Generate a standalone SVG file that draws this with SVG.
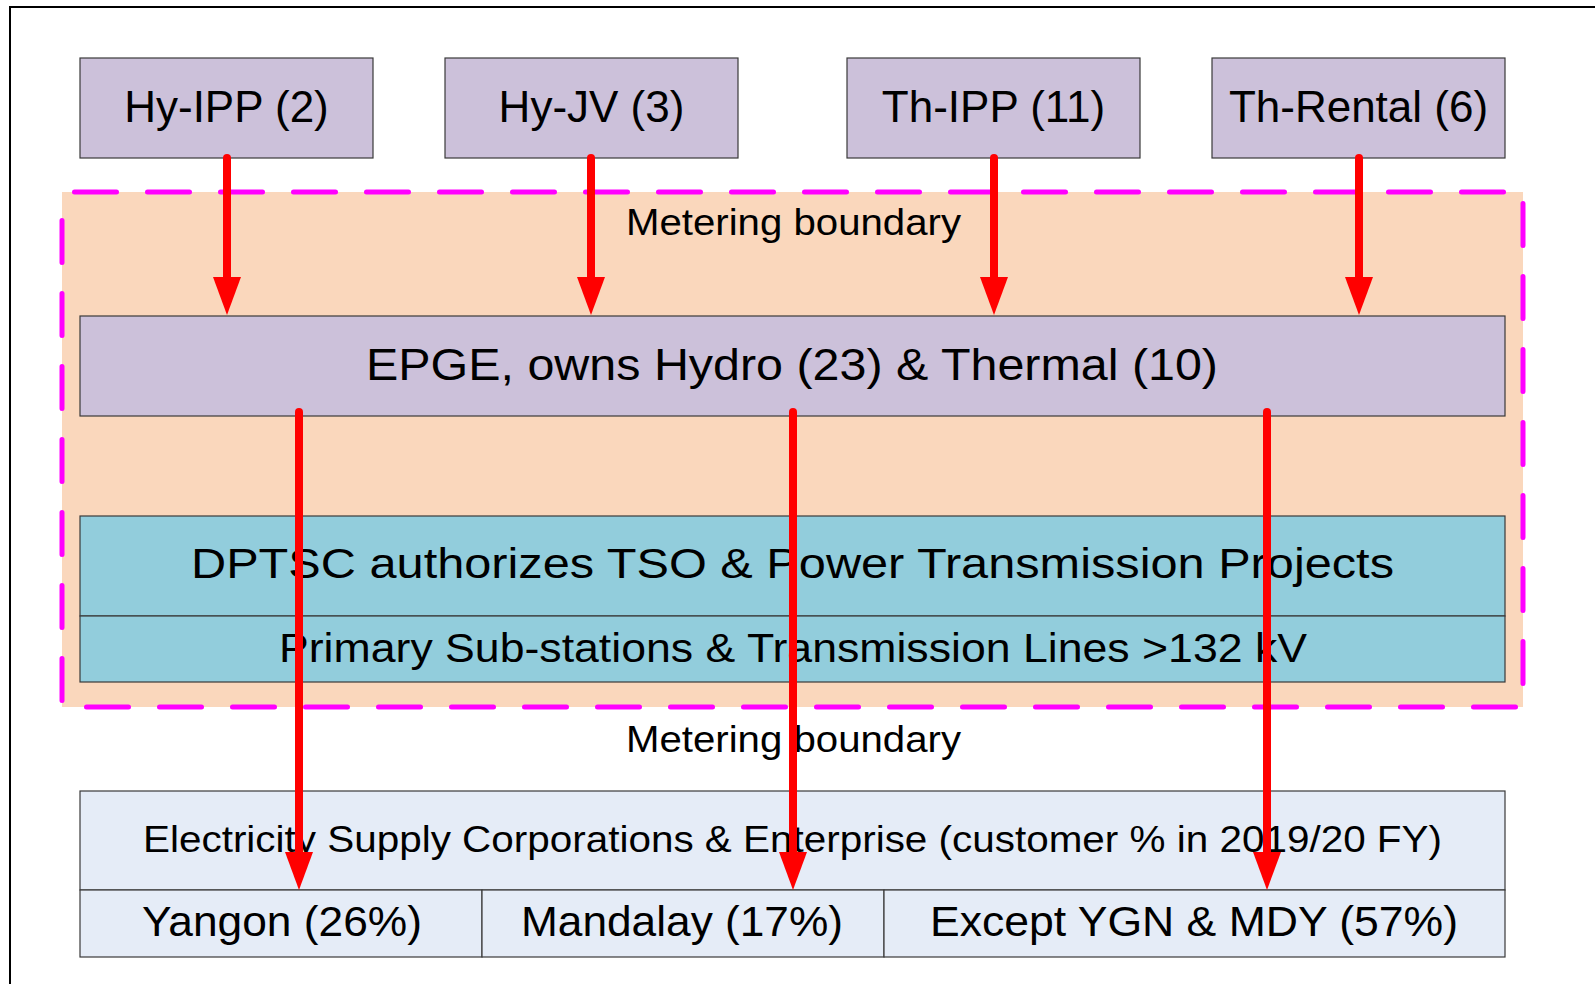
<svg xmlns="http://www.w3.org/2000/svg" width="1595" height="984" viewBox="0 0 1595 984">
  <style>
    .t { font-family: "Liberation Sans", Arial, sans-serif; fill: #000; text-anchor: middle; }
    .box { stroke: #3a3a3a; stroke-width: 1.2; }
    .pu { fill: #CCC1DA; }
    .tl { fill: #92CDDC; }
    .lb { fill: #E5ECF7; }
    .arr { stroke: #FF0000; stroke-width: 8; stroke-linecap: round; fill: none; marker-end: url(#ah); }
  </style>
  <defs>
    <marker id="ah" markerUnits="userSpaceOnUse" viewBox="0 0 38 28" refX="3" refY="14" markerWidth="38" markerHeight="28" orient="auto">
      <path d="M0,0 L38,14 L0,28 Z" fill="#FF0000"/>
    </marker>
  </defs>
  <rect width="1595" height="984" fill="#FFFFFF"/>
  <rect x="10" y="7" width="1700" height="1100" fill="none" stroke="#000" stroke-width="2"/>

  <g id="metering-region">
    <rect x="62" y="192" width="1461" height="515" fill="#FAD7BC"/>
    <rect x="62" y="192" width="1461" height="515" fill="none" stroke="#FF00FF" stroke-width="5" stroke-linecap="round" stroke-dasharray="42 31" stroke-dashoffset="60.5"/>
    <text class="t" x="793.5" y="235" font-size="37" textLength="335" lengthAdjust="spacingAndGlyphs">Metering boundary</text>
  </g>

  <g id="hy-ipp">
    <rect class="box pu" x="80" y="58" width="293" height="100"/>
    <text class="t" x="226.5" y="122" font-size="44">Hy-IPP (2)</text>
  </g>
  <g id="hy-jv">
    <rect class="box pu" x="445" y="58" width="293" height="100"/>
    <text class="t" x="591.5" y="122" font-size="44">Hy-JV (3)</text>
  </g>
  <g id="th-ipp">
    <rect class="box pu" x="847" y="58" width="293" height="100"/>
    <text class="t" x="993.5" y="122" font-size="44">Th-IPP (11)</text>
  </g>
  <g id="th-rental">
    <rect class="box pu" x="1212" y="58" width="293" height="100"/>
    <text class="t" x="1358.5" y="122" font-size="44">Th-Rental (6)</text>
  </g>

  <g id="epge">
    <rect class="box pu" x="80" y="316" width="1425" height="100"/>
    <text class="t" x="792" y="380" font-size="44" textLength="852" lengthAdjust="spacingAndGlyphs">EPGE, owns Hydro (23) &amp; Thermal (10)</text>
  </g>

  <g id="dptsc">
    <rect class="box tl" x="80" y="516" width="1425" height="100"/>
    <text class="t" x="792.5" y="578" font-size="43" textLength="1203" lengthAdjust="spacingAndGlyphs">DPTSC authorizes TSO &amp; Power Transmission Projects</text>
  </g>
  <g id="primary">
    <rect class="box tl" x="80" y="616" width="1425" height="66"/>
    <text class="t" x="793" y="662" font-size="40" textLength="1028" lengthAdjust="spacingAndGlyphs">Primary Sub-stations &amp; Transmission Lines &gt;132 kV</text>
  </g>

  <g id="metering-label-bottom">
    <text class="t" x="793.5" y="752" font-size="37" textLength="335" lengthAdjust="spacingAndGlyphs">Metering boundary</text>
  </g>

  <g id="esc">
    <rect class="box lb" x="80" y="791" width="1425" height="99"/>
    <text class="t" x="792.5" y="852" font-size="36" textLength="1299" lengthAdjust="spacingAndGlyphs">Electricity Supply Corporations &amp; Enterprise (customer % in 2019/20 FY)</text>
  </g>
  <g id="yangon">
    <rect class="box lb" x="80" y="890" width="402" height="67"/>
    <text class="t" x="282" y="936" font-size="43" textLength="280" lengthAdjust="spacingAndGlyphs">Yangon (26%)</text>
  </g>
  <g id="mandalay">
    <rect class="box lb" x="482" y="890" width="402" height="67"/>
    <text class="t" x="682" y="936" font-size="43" textLength="322" lengthAdjust="spacingAndGlyphs">Mandalay (17%)</text>
  </g>
  <g id="except">
    <rect class="box lb" x="884" y="890" width="621" height="67"/>
    <text class="t" x="1194" y="936" font-size="43" textLength="528" lengthAdjust="spacingAndGlyphs">Except YGN &amp; MDY (57%)</text>
  </g>

  <g id="connectors">
    <line class="arr" x1="227" y1="158" x2="227" y2="280"/>
    <line class="arr" x1="591" y1="158" x2="591" y2="280"/>
    <line class="arr" x1="994" y1="158" x2="994" y2="280"/>
    <line class="arr" x1="1359" y1="158" x2="1359" y2="280"/>
    <line class="arr" x1="299" y1="412" x2="299" y2="855"/>
    <line class="arr" x1="793" y1="412" x2="793" y2="855"/>
    <line class="arr" x1="1267" y1="412" x2="1267" y2="855"/>
  </g>
</svg>
